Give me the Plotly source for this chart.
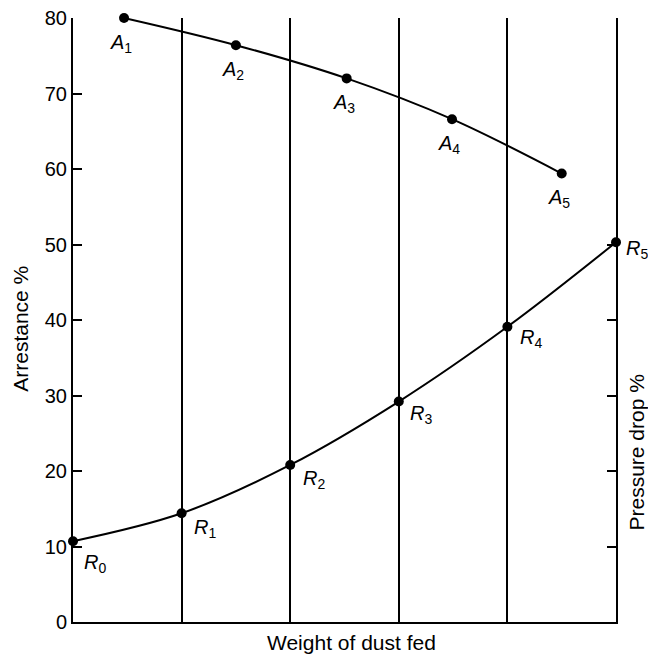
# arrestance and pressure drop vs weight of dust fed
import plotly.graph_objects as go

# ---- data
a_x = [0.47, 1.5, 2.52, 3.49, 4.5]
a_y = [80.0, 76.4, 72.0, 66.6, 59.4]

r_x = [0, 1, 2, 3, 4, 5]
r_y = [10.7, 14.4, 20.8, 29.2, 39.1, 50.3]

left_ticks = [0, 10, 20, 30, 40, 50, 60, 70, 80]
right_ticks = [10, 20, 30, 40, 50]

# label offsets in pixels (style only)
r_lab_dx = [22, 23, 24, 22, 24, 21]
r_lab_dy = [-22, -15, -15, -13, -12, -7]

FONT = "Liberation Sans, Arial, Helvetica, sans-serif"

fig = go.Figure()

fig.add_trace(go.Scatter(
    x=a_x, y=a_y, mode="lines+markers", line_shape="spline",
    line=dict(color="black", width=2), marker=dict(color="black", size=10),
    cliponaxis=False, showlegend=False))
fig.add_trace(go.Scatter(
    x=r_x, y=r_y, mode="lines+markers", line_shape="spline",
    line=dict(color="black", width=2), marker=dict(color="black", size=10),
    cliponaxis=False, showlegend=False))
# empty trace so the right axis is drawn
fig.add_trace(go.Scatter(x=[None], y=[None], yaxis="y2", showlegend=False))

# point labels
for i, (x, y) in enumerate(zip(a_x, a_y)):
    fig.add_annotation(x=x, y=y, text="<i>A</i><sub>%d</sub>" % (i + 1),
                       showarrow=False, xshift=-3, yshift=-25,
                       font=dict(size=20, family=FONT, color="black"))
for i, (x, y) in enumerate(zip(r_x, r_y)):
    fig.add_annotation(x=x, y=y, text="<i>R</i><sub>%d</sub>" % i,
                       showarrow=False, xshift=r_lab_dx[i], yshift=r_lab_dy[i],
                       font=dict(size=20, family=FONT, color="black"))

# axis titles
title_font = dict(size=21, family=FONT, color="black")
fig.add_annotation(xref="paper", yref="paper", x=-0.097, y=0.486,
                   xanchor="center", yanchor="middle",
                   text="Arrestance %", textangle=-90, showarrow=False,
                   font=title_font)
fig.add_annotation(xref="paper", yref="paper", x=1.038, y=0.28,
                   xanchor="center", yanchor="middle",
                   text="Pressure drop %", textangle=-90, showarrow=False,
                   font=title_font)
fig.add_annotation(xref="paper", yref="paper", x=0.512, y=-0.034,
                   xanchor="center", yanchor="middle",
                   text="Weight of dust fed", showarrow=False,
                   font=title_font)

fig.update_layout(
    width=656, height=659,
    margin=dict(l=65, r=48, t=10, b=45),
    plot_bgcolor="white", paper_bgcolor="white",
    font=dict(family=FONT, size=20, color="black"),
    xaxis=dict(range=[0, 5], showline=True, linecolor="black", linewidth=2,
               showticklabels=False, ticks="", zeroline=False, automargin=False,
               showgrid=True, dtick=1, tick0=0, gridcolor="black", gridwidth=1.5),
    yaxis=dict(range=[0, 80], tickvals=left_ticks, ticks="inside", ticklen=9,
               tickwidth=2, tickcolor="black", showline=True, linecolor="black",
               linewidth=2, showgrid=False, zeroline=False, automargin=False,
               ticklabeloverflow="allow"),
    yaxis2=dict(range=[0, 80], overlaying="y", side="right", tickvals=right_ticks,
                ticks="inside", ticklen=9, tickwidth=2, tickcolor="black",
                showticklabels=False, showline=True, linecolor="black",
                linewidth=2, showgrid=False, zeroline=False, automargin=False),
)

fig.write_html("out.html")
